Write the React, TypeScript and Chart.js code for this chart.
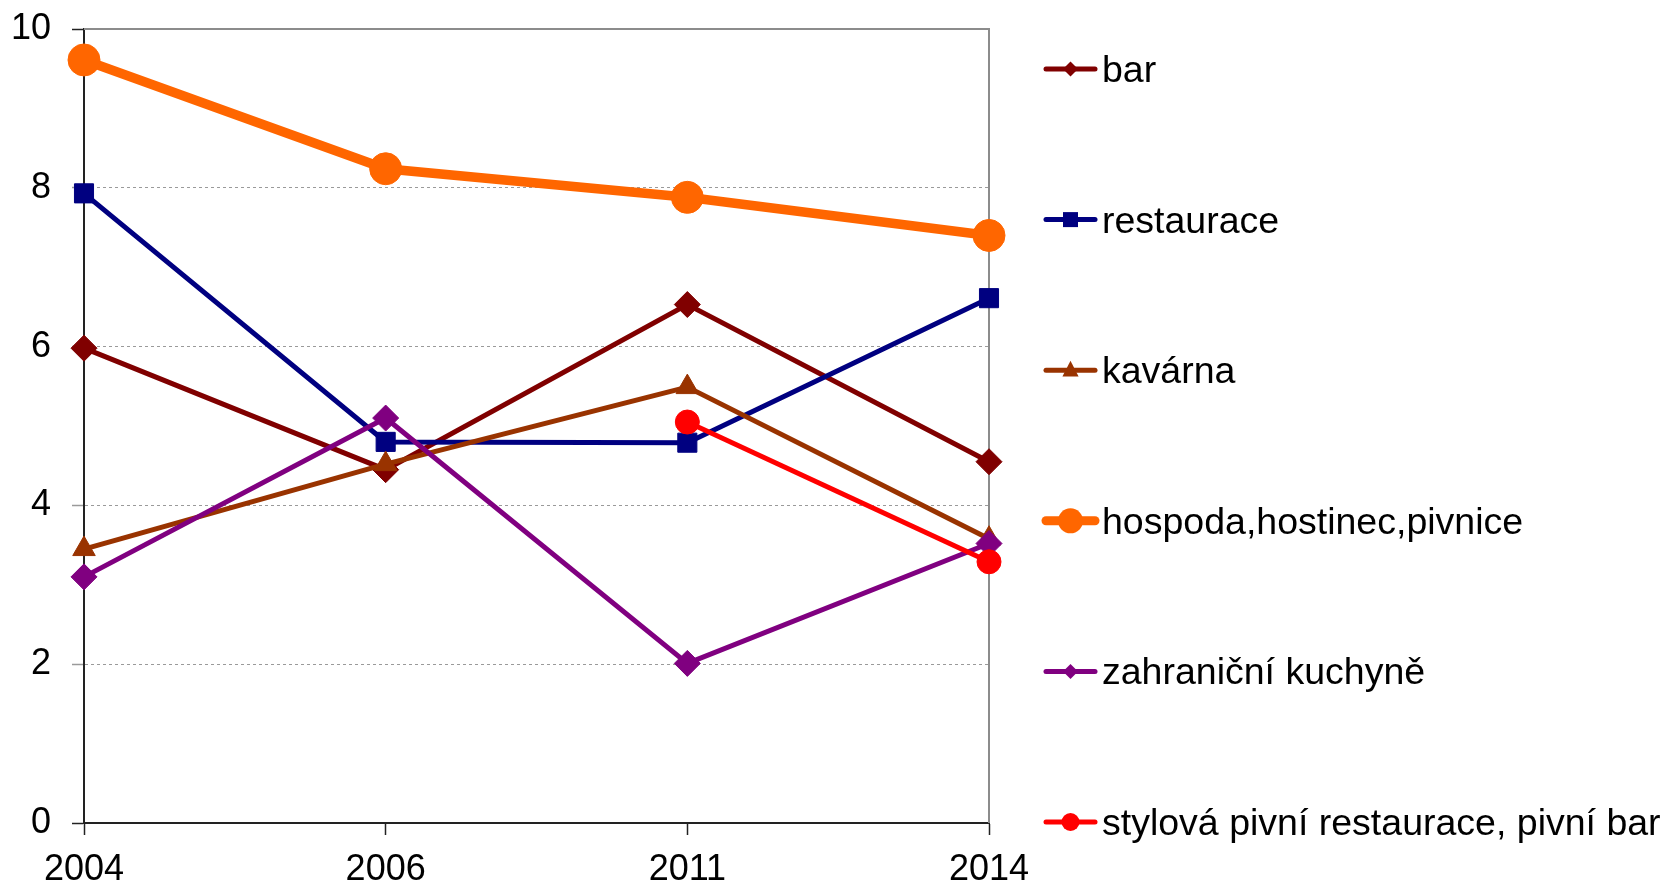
import React, { useEffect, useRef } from "react";
import { Chart, registerables } from "chart.js";

Chart.register(...registerables);

const years = ["2004", "2006", "2011", "2014"];
const seriesNames = [
  "bar",
  "restaurace",
  "kavárna",
  "hospoda,hostinec,pivnice",
  "zahraniční kuchyně",
  "stylová pivní restaurace, pivní bar",
];
const barValues = [5.98, 4.45, 6.53, 4.55];
const restauraceValues = [7.93, 4.8, 4.79, 6.61];
const kavarnaValues = [3.45, 4.52, 5.49, 3.58];
const hospodaValues = [9.61, 8.24, 7.88, 7.4];
const zahranicniValues = [3.1, 5.1, 2.01, 3.52];
const stylovaValues: (number | null)[] = [null, null, 5.05, 3.29];
const yMin = 0;
const yMax = 10;
const yStep = 2;

const seriesValues = [barValues, restauraceValues, kavarnaValues, hospodaValues, zahranicniValues, stylovaValues];
const seriesColors = ["#800000", "#000080", "#993300", "#FF6600", "#800080", "#FF0000"];
const seriesShapes = ["rectRot", "rect", "triangle", "circle", "rectRot", "circle"];
const seriesLineWidths = [5, 5, 5, 9.5, 5, 5];
const seriesPointRadii = [13, 13.5, 13, 16, 13, 12];
const legendMarkerSizes = [7.5, 7.5, 8.5, 12.5, 7.5, 9];

const FONT = '"Liberation Sans", Arial, sans-serif';

function drawMarker(ctx: CanvasRenderingContext2D, shape: string, x: number, y: number, r: number, color: string) {
  ctx.fillStyle = color;
  ctx.beginPath();
  if (shape === "circle") {
    ctx.arc(x, y, r, 0, Math.PI * 2);
  } else if (shape === "rect") {
    ctx.rect(x - r, y - r, 2 * r, 2 * r);
  } else if (shape === "rectRot") {
    ctx.moveTo(x, y - r);
    ctx.lineTo(x + r, y);
    ctx.lineTo(x, y + r);
    ctx.lineTo(x - r, y);
    ctx.closePath();
  } else {
    ctx.moveTo(x, y - r * 1.1);
    ctx.lineTo(x + r * 0.95, y + r * 0.75);
    ctx.lineTo(x - r * 0.95, y + r * 0.75);
    ctx.closePath();
  }
  ctx.fill();
}

const framePlugin = {
  id: "frame",
  beforeDatasetsDraw(chart: any) {
    const { ctx, chartArea: a } = chart;
    ctx.save();
    ctx.strokeStyle = "#8c8c8c";
    ctx.lineWidth = 2;
    ctx.beginPath();
    ctx.moveTo(a.left, a.top);
    ctx.lineTo(a.right, a.top);
    ctx.lineTo(a.right, a.bottom);
    ctx.stroke();
    ctx.restore();
  },
};

const legendPlugin = {
  id: "customLegend",
  afterDraw(chart: any) {
    const { ctx } = chart;
    const lineX1 = 1046;
    const lineX2 = 1095;
    const textX = 1102;
    const firstY = 69;
    const gap = 150.6;
    ctx.save();
    chart.data.datasets.forEach((ds: any, i: number) => {
      const y = firstY + i * gap;
      ctx.strokeStyle = seriesColors[i];
      ctx.lineWidth = i === 3 ? 9 : 5;
      ctx.lineCap = "round";
      ctx.beginPath();
      ctx.moveTo(lineX1, y);
      ctx.lineTo(lineX2, y);
      ctx.stroke();
      drawMarker(ctx, seriesShapes[i], (lineX1 + lineX2) / 2, y, legendMarkerSizes[i], seriesColors[i]);
      ctx.fillStyle = "#000";
      ctx.font = `37.5px ${FONT}`;
      ctx.textAlign = "left";
      ctx.textBaseline = "alphabetic";
      ctx.fillText(ds.label, textX, y + 13);
    });
    ctx.restore();
  },
};

export default function App() {
  const canvasRef = useRef<HTMLCanvasElement | null>(null);

  useEffect(() => {
    if (!canvasRef.current) return;
    const n = seriesNames.length;
    const chart = new Chart(canvasRef.current, {
      type: "line",
      data: {
        labels: years,
        datasets: seriesNames.map((name, i) => ({
          label: name,
          data: seriesValues[i],
          borderColor: seriesColors[i],
          backgroundColor: seriesColors[i],
          borderWidth: seriesLineWidths[i],
          pointStyle: seriesShapes[i] as any,
          pointRadius: seriesPointRadii[i],
          pointBorderWidth: 1,
          pointBorderColor: seriesColors[i],
          pointBackgroundColor: seriesColors[i],
          tension: 0,
          fill: false,
          order: n - i,
        })),
      },
      options: {
        animation: false,
        responsive: false,
        devicePixelRatio: 1,
        layout: { padding: { top: 29, right: 678, bottom: 0, left: 0 } },
        plugins: {
          legend: { display: false },
          tooltip: { enabled: false },
          title: { display: false },
        },
        scales: {
          x: {
            type: "category",
            offset: false,
            afterFit: (s: any) => {
              s.height = 60;
            },
            grid: {
              display: true,
              drawOnChartArea: false,
              drawTicks: true,
              tickLength: 12,
              tickColor: "#222",
              tickWidth: 1.5,
            },
            border: { display: true, color: "#222", width: 2 },
            ticks: {
              color: "#000",
              padding: 13,
              maxRotation: 0,
              autoSkip: false,
              font: { family: FONT, size: 36 },
            },
          },
          y: {
            min: yMin,
            max: yMax,
            afterFit: (s: any) => {
              s.width = 84;
            },
            grid: {
              display: true,
              drawTicks: true,
              tickLength: 12,
              color: (c: any) =>
                c.tick && (c.tick.value === yMin || c.tick.value === yMax) ? "rgba(0,0,0,0)" : "#9a9a9a",
              lineWidth: 1,
              tickColor: (c: any) =>
                c.tick && (c.tick.value === yMin || c.tick.value === yMax) ? "#222" : "#9a9a9a",
              tickWidth: 1.5,
            },
            border: { display: true, color: "#222", width: 2, dash: [3, 3] },
            ticks: {
              stepSize: yStep,
              color: "#000",
              padding: 21,
              font: { family: FONT, size: 36, lineHeight: 0.3 },
            },
          },
        },
      },
      plugins: [framePlugin, legendPlugin],
    });
    return () => chart.destroy();
  }, []);

  return (
    <div style={{ position: "absolute", left: 0, top: 0, width: 1667, height: 883, background: "#fff" }}>
      <canvas ref={canvasRef} width={1667} height={883} style={{ display: "block" }} />
    </div>
  );
}
